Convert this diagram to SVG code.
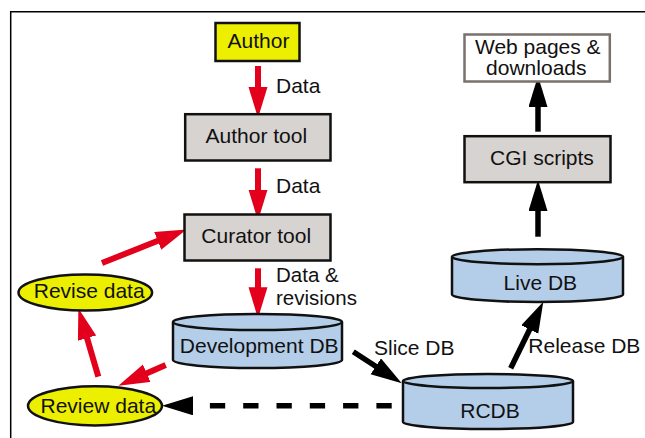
<svg xmlns="http://www.w3.org/2000/svg" width="645" height="438" viewBox="0 0 645 438">
<defs>
<style>
text{font-family:"Liberation Sans",Arial,sans-serif;font-size:21px;fill:#111}
.m{text-anchor:middle}
.box{fill:#d7d3d0;stroke:#111;stroke-width:2.5}
.yel{fill:#ecef00;stroke:#111;stroke-width:2.5}
.db{fill:#b4cde9;stroke:#111;stroke-width:2.5}
.red{stroke:#e2001c;stroke-width:6;fill:none}
.blk{stroke:#000;stroke-width:5.5;fill:none}
</style>
<marker id="ahR" markerUnits="userSpaceOnUse" markerWidth="32" markerHeight="20" refX="3" refY="9.5" orient="auto" viewBox="0 0 32 20">
<path d="M0,0 L31,9.5 L0,19 Z" fill="#e2001c"/>
</marker>
<marker id="ahK" markerUnits="userSpaceOnUse" markerWidth="32" markerHeight="20" refX="3" refY="9.5" orient="auto" viewBox="0 0 32 20">
<path d="M0,0 L31,9.5 L0,19 Z" fill="#000"/>
</marker>
</defs>
<rect width="645" height="438" fill="#fff"/>
<path d="M10.7,438 L10.7,11.7 L645,11.7" fill="none" stroke="#000" stroke-width="1.5"/>

<g id="connectors">
<line class="red" x1="258" y1="66" x2="258" y2="90" marker-end="url(#ahR)"/>
<line class="red" x1="258" y1="168.3" x2="258" y2="192.7" marker-end="url(#ahR)"/>
<line class="red" x1="258" y1="268.3" x2="258" y2="290.3" marker-end="url(#ahR)"/>
<line class="red" x1="102" y1="263" x2="160.5" y2="239.8" marker-end="url(#ahR)"/>
<line class="red" x1="98.3" y1="376.7" x2="86.2" y2="335.2" marker-end="url(#ahR)"/>
<line class="red" x1="165.7" y1="365" x2="144" y2="374.5" marker-end="url(#ahR)"/>
<line class="blk" x1="353.3" y1="351.7" x2="378.3" y2="368" marker-end="url(#ahK)"/>
<line class="blk" x1="510.7" y1="368.3" x2="531" y2="326.8" marker-end="url(#ahK)"/>
<line class="blk" x1="538" y1="236.7" x2="538" y2="208" marker-end="url(#ahK)"/>
<line class="blk" x1="538" y1="131.7" x2="538" y2="104" marker-end="url(#ahK)"/>
<line class="blk" x1="391.7" y1="405.8" x2="190" y2="405.8" stroke-dasharray="15.3 18" marker-end="url(#ahK)"/>
<text x="276" y="92.7">Data</text>
<text x="276" y="193.3">Data</text>
<text x="276" y="282" style="font-size:20.5px">Data &amp;</text>
<text x="276" y="305" style="font-size:20.5px">revisions</text>
<text x="374" y="355">Slice DB</text>
<text x="528.3" y="353.3">Release DB</text>
</g>

<g id="author">
<rect class="yel" x="215.5" y="23" width="84" height="38"/>
<text class="m" x="258.5" y="48.3">Author</text>
</g>
<g id="author-tool">
<rect class="box" x="185.2" y="114.2" width="145.3" height="46.3"/>
<text class="m" x="256.3" y="143.3">Author tool</text>
</g>
<g id="curator-tool">
<rect class="box" x="184.5" y="214.5" width="146" height="46"/>
<text class="m" x="256.2" y="243.3">Curator tool</text>
</g>
<g id="development-db">
<path class="db" d="M173,322 L173,360 A84.5,8 0 0 0 342,360 L342,322"/>
<ellipse class="db" cx="257.5" cy="322" rx="84.5" ry="8"/>
<text class="m" x="259.2" y="353.3">Development DB</text>
</g>
<g id="rcdb">
<path class="db" d="M403,381 L403,422 A85,7 0 0 0 573,422 L573,381"/>
<ellipse class="db" cx="488" cy="381" rx="85" ry="7"/>
<text class="m" x="490" y="418.3">RCDB</text>
</g>
<g id="live-db">
<path class="db" d="M452,256.7 L452,294.5 A85.5,7.5 0 0 0 623,294.5 L623,256.7"/>
<ellipse class="db" cx="537.5" cy="256.7" rx="85.5" ry="7.5"/>
<text class="m" x="540.3" y="290">Live DB</text>
</g>
<g id="cgi-scripts">
<rect class="box" x="464.5" y="136.2" width="146" height="46"/>
<text x="490" y="165">CGI scripts</text>
</g>
<g id="web-pages">
<rect x="464.5" y="34.5" width="145.3" height="47" fill="#fff" stroke="#7a716d" stroke-width="2.5"/>
<text class="m"><tspan x="537.8" y="54.3">Web pages &amp;</tspan><tspan x="536.3" y="75">downloads</tspan></text>
</g>
<g id="revise-data">
<ellipse class="yel" cx="85.3" cy="292.5" rx="66.8" ry="18"/>
<text class="m" x="89.2" y="298.3">Revise data</text>
</g>
<g id="review-data">
<ellipse class="yel" cx="95" cy="405.8" rx="67" ry="19.6"/>
<text class="m" x="98.3" y="413.3">Review data</text>
</g>
</svg>
